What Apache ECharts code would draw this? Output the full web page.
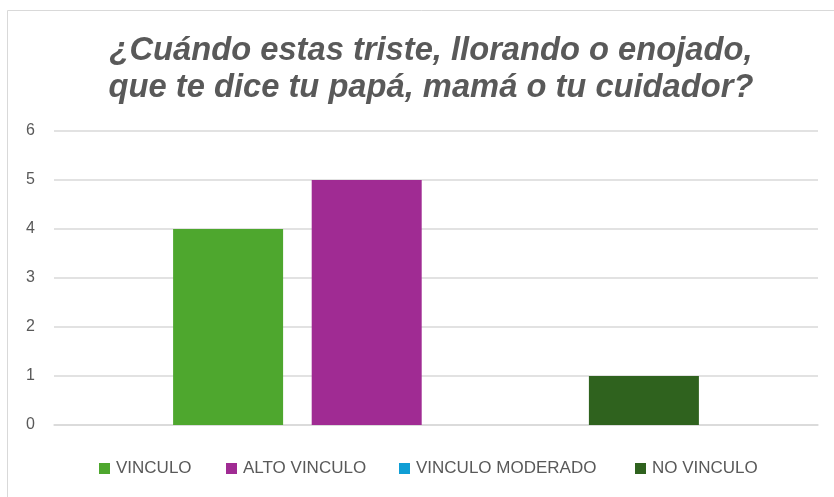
<!DOCTYPE html>
<html><head><meta charset="utf-8">
<script src="https://cdn.jsdelivr.net/npm/echarts@6/dist/echarts.min.js"></script>
<style>html,body{margin:0;padding:0;background:#fff}#c{width:834px;height:497px}</style>
</head><body><div id="c"></div>
<script>
var categories = [''];
var seriesNames = ['VINCULO', 'ALTO VINCULO', 'VINCULO MODERADO', 'NO VINCULO'];
var seriesValues = [[4], [5], [0], [1]];
var seriesColors = ['#4EA72E', '#A02B93', '#0F9ED5', '#2F621E'];
var yTicks = [0, 1, 2, 3, 4, 5, 6];
var titleText = '¿Cuándo estas triste, llorando o enojado,\nque te dice tu papá, mamá o tu cuidador?';

var legendLefts = [94, 221, 394, 630];
var font = '"Liberation Sans", Arial, sans-serif';
var chart = echarts.init(document.getElementById('c'));
chart.setOption({
  animation: false,
  title: {
    text: titleText, left: 426, textAlign: 'center', top: 27,
    textStyle: { fontFamily: font, fontSize: 32.7, fontWeight: 'bold', fontStyle: 'italic', color: '#595959', lineHeight: 37 }
  },
  graphic: [{ type: 'rect', shape: { x: 7.5, y: 10.5, width: 900, height: 600 }, style: { fill: 'none', stroke: '#d9d9d9', lineWidth: 1 }, silent: true }],
  legend: seriesNames.map(function (n, i) {
    return {
      data: [n], left: legendLefts[i], top: 455, itemWidth: 11, itemHeight: 11, icon: 'rect',
      textStyle: { fontFamily: font, fontSize: 17, color: '#595959', padding: [0, 0, 0, 1] }
    };
  }),
  grid: { left: 54, right: 16, top: 131, bottom: 72 },
  xAxis: {
    type: 'category', data: categories,
    axisLine: { lineStyle: { color: '#d9d9d9', width: 1.5 } },
    axisTick: { show: false }, axisLabel: { show: false }
  },
  yAxis: {
    type: 'value', min: yTicks[0], max: yTicks[yTicks.length - 1], interval: 1,
    axisLine: { show: false }, axisTick: { show: false },
    axisLabel: { color: '#595959', fontSize: 16, fontFamily: font, margin: 19 },
    splitLine: { lineStyle: { color: '#d9d9d9', width: 1.5 } }
  },
  series: seriesNames.map(function (n, i) {
    return { name: n, type: 'bar', data: seriesValues[i], barWidth: 110, barGap: '26%', itemStyle: { color: seriesColors[i] } };
  })
});
</script></body></html>
